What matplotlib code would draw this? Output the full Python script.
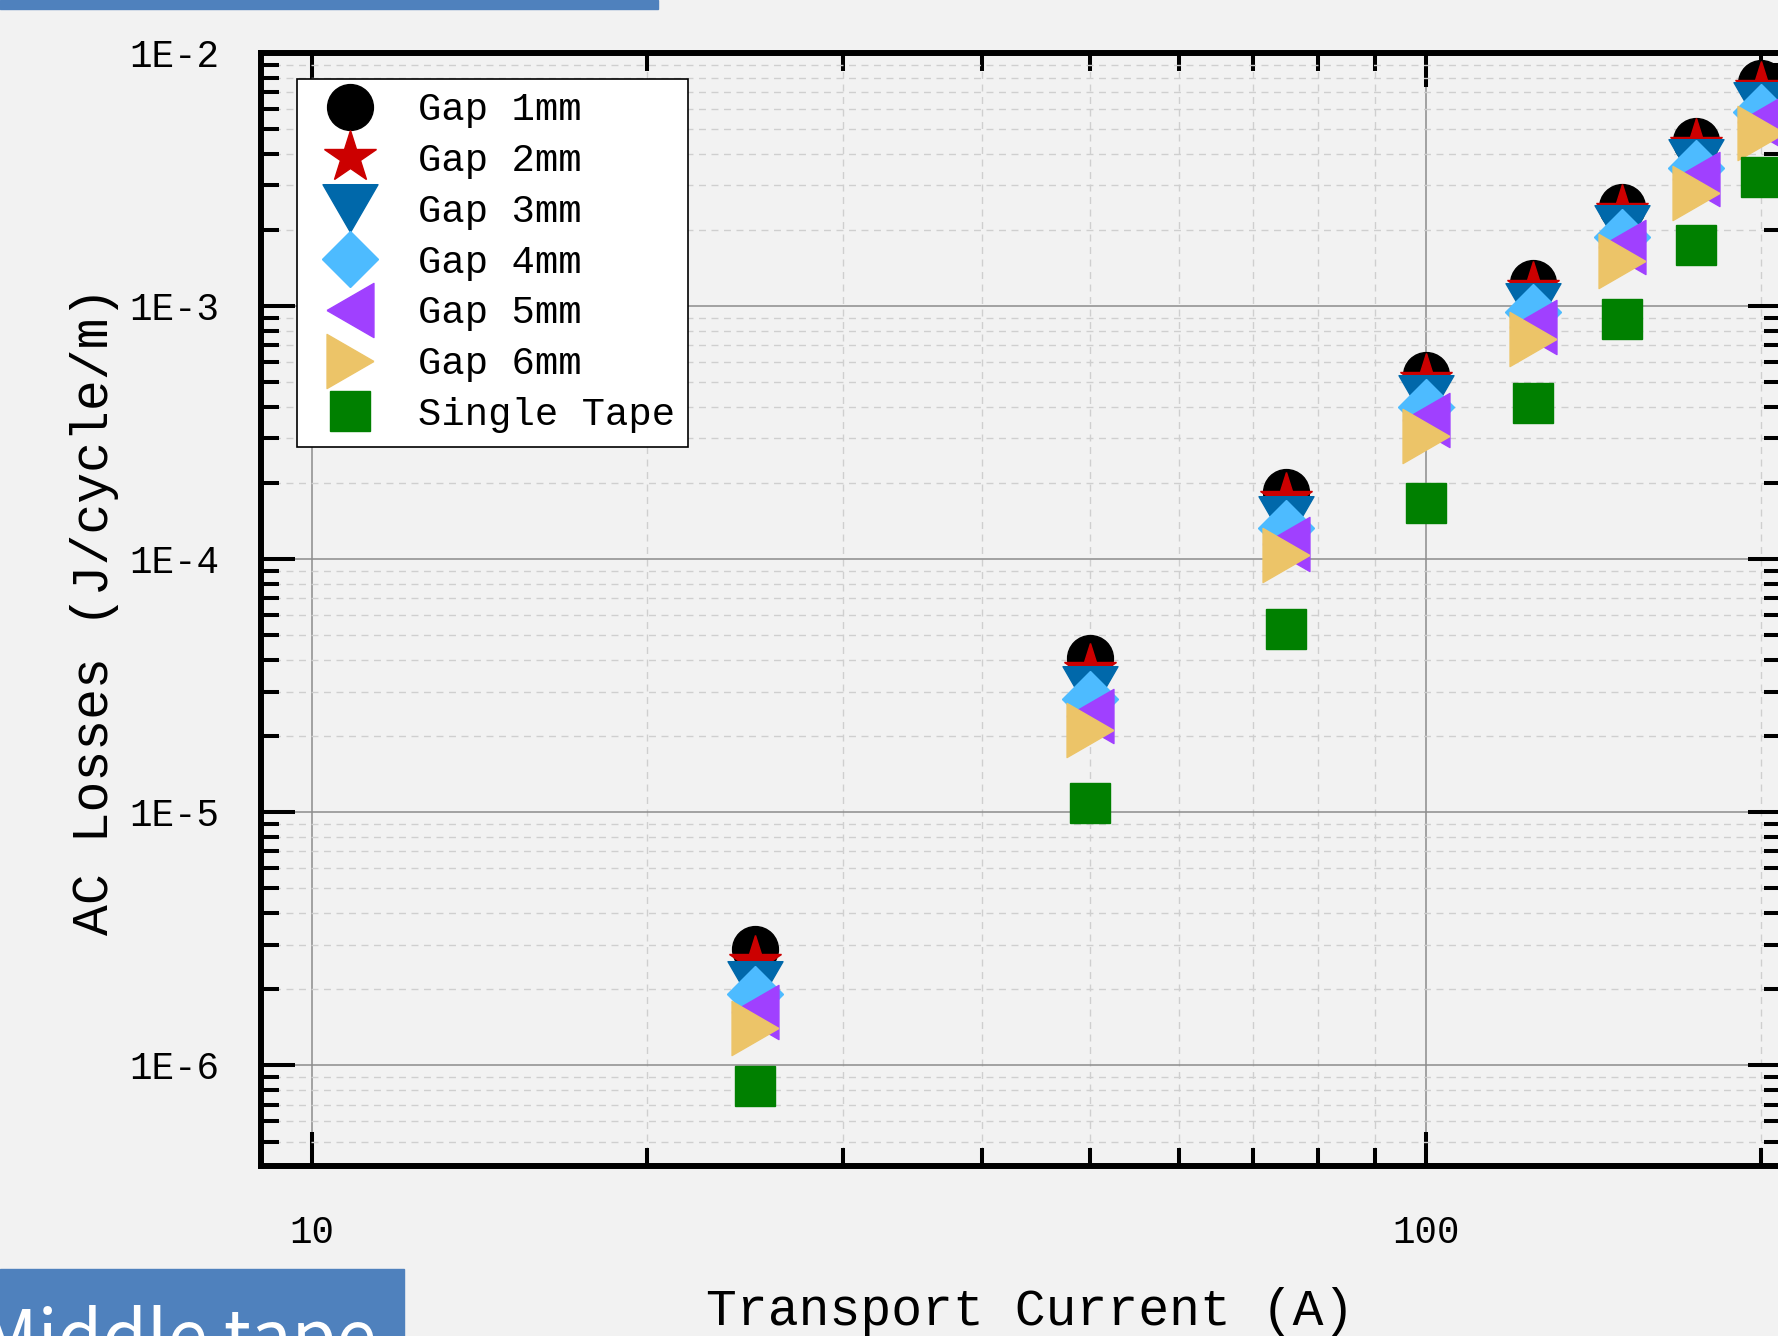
import numpy as np
import matplotlib
matplotlib.use("Agg")
import matplotlib.pyplot as plt
from matplotlib.patches import Rectangle
from matplotlib.ticker import LogLocator, FuncFormatter, NullFormatter

# transport current (A) and AC losses (J/cycle/m) for each tape gap
current = [25, 50, 75, 100, 125, 150, 175, 200]
gap_1mm = [2.88e-6, 4.06e-5, 1.85e-4, 5.36e-4, 1.23e-3, 2.46e-3, 4.50e-3, 7.59e-3]
gap_2mm = [2.55e-6, 3.64e-5, 1.73e-4, 5.10e-4, 1.18e-3, 2.38e-3, 4.32e-3, 7.29e-3]
gap_3mm = [2.08e-6, 3.03e-5, 1.43e-4, 4.28e-4, 9.91e-4, 2.02e-3, 3.68e-3, 6.19e-3]
gap_4mm = [1.91e-6, 2.81e-5, 1.33e-4, 3.99e-4, 9.50e-4, 1.87e-3, 3.50e-3, 5.85e-3]
gap_5mm = [1.62e-6, 2.41e-5, 1.15e-4, 3.55e-4, 8.29e-4, 1.71e-3, 3.17e-3, 5.34e-3]
gap_6mm = [1.40e-6, 2.12e-5, 1.04e-4, 3.07e-4, 7.40e-4, 1.51e-3, 2.79e-3, 4.83e-3]
single_tape = [8.28e-7, 1.09e-5, 5.31e-5, 1.66e-4, 4.14e-4, 8.88e-4, 1.74e-3, 3.23e-3]

labels = ["Gap 1mm", "Gap 2mm", "Gap 3mm", "Gap 4mm", "Gap 5mm", "Gap 6mm", "Single Tape"]

plt.rcParams['font.family'] = 'Liberation Mono'

bg = '#f2f2f2'
fig = plt.figure(figsize=(17.78, 13.36), dpi=100, facecolor=bg)
# axes run a little past the right edge of the figure
ax = fig.add_axes([0.1468, 0.1272, 0.8555, 0.8331])
ax.set_facecolor(bg)
ax.set_xscale('log')
ax.set_yscale('log')
ax.set_xlim(9, 209)
ax.set_ylim(4e-7, 1e-2)

# equilateral triangles centred on their bounding box
tri_down = np.array([(0, -0.433), (-0.5, 0.433), (0.5, 0.433), (0, -0.433)])
tri_left = np.array([(-0.433, 0), (0.433, 0.5), (0.433, -0.5), (-0.433, 0)])
tri_right = np.array([(0.433, 0), (-0.433, 0.5), (-0.433, -0.5), (0.433, 0)])

series = [gap_1mm, gap_2mm, gap_3mm, gap_4mm, gap_5mm, gap_6mm, single_tape]
markers = ['o', '*', tri_down, 'D', tri_left, tri_right, 's']
sizes = [33, 39.6, 39.6, 29, 39, 39, 28.8]
colors = ['black', '#cc0000', '#0068aa', '#4dbbff', '#a040ff', '#ecc468', '#008000']

for vals, m, s, c, lab in zip(series, markers, sizes, colors, labels):
    ax.plot(current, vals, linestyle='none', marker=m, ms=s,
            color=c, mec=c, mew=1, label=lab)

# grid
ax.set_axisbelow(True)
ax.grid(True, which='major', color='#8c8c8c', lw=1.1, ls='-')
ax.grid(True, which='minor', color='#cfcfcf', lw=1.0, ls=(0, (5, 4)))

# ticks
ax.xaxis.set_major_locator(LogLocator(base=10, numticks=10))
ax.xaxis.set_minor_locator(LogLocator(base=10, subs=np.arange(2, 10), numticks=20))
ax.xaxis.set_major_formatter(FuncFormatter(lambda v, p: "%g" % v))
ax.xaxis.set_minor_formatter(NullFormatter())
ax.yaxis.set_major_locator(LogLocator(base=10, numticks=12))
ax.yaxis.set_minor_locator(LogLocator(base=10, subs=np.arange(2, 10), numticks=20))
ax.yaxis.set_major_formatter(FuncFormatter(lambda v, p: "1E%d" % round(np.log10(v))))
ax.yaxis.set_minor_formatter(NullFormatter())

ax.tick_params(which='both', direction='in', top=True, right=True, width=2.9, color='black')
ax.tick_params(which='major', length=24.5, labelsize=27)
ax.tick_params(which='minor', length=13)
ax.tick_params(axis='x', which='major', pad=35.5)
ax.tick_params(axis='y', which='major', pad=30)

for sp in ax.spines.values():
    sp.set_linewidth(4.3)
    sp.set_color('black')

leg = ax.legend(loc='upper left', bbox_to_anchor=(0.0237, 0.977), borderaxespad=0,
                fontsize=28, frameon=True, fancybox=False, edgecolor='black',
                framealpha=1, facecolor='white', numpoints=1, handlelength=2.0,
                handletextpad=0.75, labelspacing=0.38, borderpad=0.35)
leg.get_frame().set_linewidth(1.2)

# axis titles
fig.text(1030 / 1778, 1 - 1325 / 1336, "Transport Current (A)",
         ha='center', va='baseline', fontsize=37)
fig.text(107.7 / 1778, 1 - 611 / 1336, "AC Losses (J/cycle/m)", rotation=90,
         rotation_mode='anchor', ha='center', va='baseline', fontsize=37)

# slide decorations: top bar and the caption box at the bottom left
fig.patches.append(Rectangle((0, 1 - 9 / 1336), 658 / 1778, 9 / 1336,
                             transform=fig.transFigure, color='#4f81bd', zorder=5))
fig.patches.append(Rectangle((0, 0), 404 / 1778, 67 / 1336,
                             transform=fig.transFigure, color='#4f81bd', zorder=5))
fig.text(376 / 1778, 1 - 1362 / 1336, "Middle tape", color='white',
         family='Noto Sans CJK SC', fontsize=52, ha='right', va='baseline', zorder=6)

fig.savefig('out.png', dpi=100, facecolor=bg)
